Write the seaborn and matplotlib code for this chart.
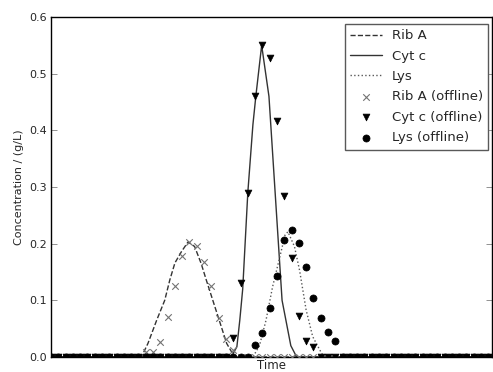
import numpy as np
import pandas as pd
import matplotlib
matplotlib.use("Agg")
import matplotlib.pyplot as plt
import seaborn as sns

# ---------------- data ----------------
# simulated (online) curves
ribA_t = [0, 12.4, 13.3, 14.5, 15.6, 16.3, 17.0, 17.9, 18.8, 19.7, 20.6, 21.3, 22.2, 23.2, 24.1, 25.0, 25.3, 60.5]
ribA_c = [0, 0, 0.024, 0.065, 0.10, 0.136, 0.166, 0.186, 0.203, 0.195, 0.165, 0.136, 0.10, 0.06, 0.024, 0.004, 0, 0]

cytc_t = [0, 24.0, 24.9, 25.5, 25.9, 26.3, 27.0, 27.7, 28.1, 28.9, 29.9, 30.8, 31.7, 32.9, 33.7, 60.5]
cytc_c = [0, 0, 0.004, 0.018, 0.065, 0.12, 0.29, 0.41, 0.46, 0.55, 0.46, 0.28, 0.10, 0.02, 0, 0]

lys_t = [0, 27.7, 28.6, 29.5, 30.4, 31.4, 32.1, 32.5, 33.4, 34.1, 35.0, 35.9, 37.1, 37.5, 60.5]
lys_c = [0, 0, 0.02, 0.065, 0.124, 0.177, 0.215, 0.221, 0.195, 0.153, 0.083, 0.036, 0.007, 0, 0]

# offline samples (one per time unit, zero outside the peaks)
off_t = list(range(0, 61))
ribA_peak_start = 13
ribA_peak = [0.009, 0.009, 0.026, 0.070, 0.126, 0.178, 0.203, 0.196, 0.168, 0.125, 0.068, 0.031, 0.012]
cytc_peak_start = 25
cytc_peak = [0.033, 0.130, 0.290, 0.461, 0.551, 0.527, 0.417, 0.284, 0.175, 0.072, 0.029, 0.018]
lys_peak_start = 28
lys_peak = [0.021, 0.043, 0.087, 0.143, 0.207, 0.225, 0.202, 0.159, 0.104, 0.068, 0.045, 0.028]

labels = ["Rib A", "Cyt c", "Lys", "Rib A (offline)", "Cyt c (offline)", "Lys (offline)"]
y_ticks = [0.0, 0.1, 0.2, 0.3, 0.4, 0.5, 0.6]


def full(start, peak):
    arr = np.zeros(len(off_t))
    arr[start:start + len(peak)] = peak
    return arr


ribA_off = full(ribA_peak_start, ribA_peak)
cytc_off = full(cytc_peak_start, cytc_peak)
lys_off = full(lys_peak_start, lys_peak)

# ---------------- plot ----------------
sns.set_style("white")
plt.rcParams["font.family"] = ["DejaVu Sans"]

fig = plt.figure(figsize=(4.93, 3.72), dpi=100)
ax = fig.add_axes([51 / 493, 15 / 372, 441 / 493, 340 / 372])

sns.lineplot(x=ribA_t, y=ribA_c, ax=ax, color="0.2", linestyle="--", lw=1.0,
             label=labels[0], estimator=None, sort=False)
sns.lineplot(x=cytc_t, y=cytc_c, ax=ax, color="0.2", linestyle="-", lw=1.0,
             label=labels[1], estimator=None, sort=False)
sns.lineplot(x=lys_t, y=lys_c, ax=ax, color="0.35", linestyle=":", lw=1.0,
             label=labels[2], estimator=None, sort=False)

sns.scatterplot(x=off_t, y=ribA_off, ax=ax, marker="x", color="0.45", s=22,
                linewidth=0.8, label=labels[3], zorder=3)
sns.scatterplot(x=off_t, y=cytc_off, ax=ax, marker="v", color="black", s=24,
                edgecolor="black", linewidth=0.5, label=labels[4], zorder=3)
sns.scatterplot(x=off_t, y=lys_off, ax=ax, marker="o", color="black", s=26,
                edgecolor="black", linewidth=0.5, label=labels[5], zorder=3)

ax.set_xlim(0, 60.5)
ax.set_ylim(0, 0.6)
ax.set_yticks(y_ticks)
ax.set_yticklabels([f"{v:.1f}" for v in y_ticks], fontsize=8)
ax.set_xticks([])
ax.set_xlabel("Time", fontsize=8.5, labelpad=1.5)
ax.set_ylabel("Concentration / (g/L)", fontsize=8)
ax.tick_params(axis="y", direction="in", length=4, width=0.6, color="0.5",
               left=True, right=True, pad=3)
for sp in ax.spines.values():
    sp.set_visible(True)
    sp.set_color("black")
    sp.set_linewidth(1.0)

handles, labs = ax.get_legend_handles_labels()
order = [labs.index(l) for l in labels]
leg = ax.legend([handles[i] for i in order], [labs[i] for i in order],
                loc="upper right",
                bbox_to_anchor=((488.5 - 51) / 441, (357 - 24) / 340),
                fontsize=9.5, frameon=True, fancybox=False,
                edgecolor="0.35", framealpha=1, borderpad=0.4, labelspacing=0.56,
                handlelength=2.4, handletextpad=0.8, borderaxespad=0.0,
                scatterpoints=1)
leg.get_frame().set_linewidth(1.0)

fig.savefig("out.png", dpi=100)
